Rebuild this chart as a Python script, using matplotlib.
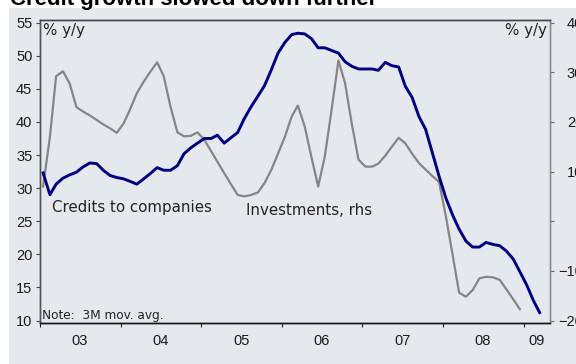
import matplotlib
matplotlib.use("Agg")
import matplotlib.pyplot as plt
import matplotlib.dates as mdates
from matplotlib.patches import Rectangle
import pandas as pd

# Monthly series, Jan 2003 onwards (3M moving averages, % y/y)
credits_to_companies = [
    32.3, 29.0, 30.6, 31.5, 32.0, 32.4, 33.2, 33.8, 33.7, 32.7, 31.9, 31.6,   # 2003
    31.4, 31.0, 30.6, 31.4, 32.2, 33.1, 32.7, 32.7, 33.4, 35.2, 36.1, 36.8,   # 2004
    37.5, 37.5, 38.0, 36.8, 37.6, 38.4, 40.5, 42.3, 43.9, 45.5, 47.9, 50.4,   # 2005
    52.0, 53.2, 53.4, 53.3, 52.6, 51.2, 51.2, 50.8, 50.4, 49.1, 48.4, 48.0,   # 2006
    48.0, 48.0, 47.8, 49.0, 48.5, 48.3, 45.4, 43.7, 40.8, 38.9, 35.3, 31.8,   # 2007
    28.5, 25.9, 23.8, 22.0, 21.1, 21.1, 21.8, 21.5, 21.3, 20.5, 19.3, 17.4,   # 2008
    15.4, 13.0, 11.2,                                                          # 2009
]
investments_rhs = [
    7.0, 17.0, 29.2, 30.2, 27.8, 23.0, 22.1, 21.3, 20.4, 19.5, 18.7, 17.8,     # 2003
    19.7, 22.7, 25.8, 28.1, 30.1, 32.0, 29.2, 23.0, 17.9, 17.1, 17.2, 17.9,   # 2004
    16.4, 14.1, 12.0, 9.7, 7.5, 5.3, 5.0, 5.3, 5.8, 7.7, 10.4, 13.6,          # 2005
    17.0, 21.1, 23.3, 19.1, 13.0, 7.0, 13.0, 22.5, 32.4, 27.8, 19.5, 12.4,    # 2006
    11.0, 11.0, 11.6, 13.2, 15.0, 16.8, 15.7, 13.6, 11.7, 10.4, 9.1, 7.9,     # 2007
    1.0, -6.9, -14.4, -15.2, -13.9, -11.5, -11.2, -11.3, -11.8, -13.7, -15.7, -17.7,  # 2008
]
year_labels = ["03", "04", "05", "06", "07", "08", "09"]
left_ticks = [10, 15, 20, 25, 30, 35, 40, 45, 50, 55]
right_ticks = [-20, -10, 0, 10, 20, 30, 40]

W, H = 576, 364
fig = plt.figure(figsize=(W / 100, H / 100), dpi=100)
fig.patch.set_facecolor("white")

def fx(px):
    return px / W

def fy(py):
    return 1 - py / H

bg = "#e5e9ee"
fig.patches.append(Rectangle((fx(9), 0), 1 - fx(9), fy(8), transform=fig.transFigure,
                             facecolor=bg, edgecolor="none", zorder=-10))

fig.text(fx(10), fy(5), "Credit growth slowed down further", fontsize=16,
         fontweight="bold", family="Liberation Sans", va="baseline", ha="left")

ax = fig.add_axes([fx(40), fy(322.5), fx(550) - fx(40), fy(20) - fy(322.5)])
ax2 = ax.twinx()
ax.set_zorder(ax2.get_zorder() + 1)
ax.patch.set_visible(False)
ax2.patch.set_facecolor(bg)

dates_blue = pd.date_range("2003-01-01", periods=len(credits_to_companies), freq="MS") + pd.Timedelta(days=14)
dates_gray = pd.date_range("2003-01-01", periods=len(investments_rhs), freq="MS") + pd.Timedelta(days=14)

ax2.plot(dates_gray, investments_rhs, color="#858585", lw=1.6, solid_joinstyle="round")
ax.plot(dates_blue, credits_to_companies, color="#000080", lw=2.1, solid_joinstyle="round")

ax.set_xlim(pd.Timestamp("2003-01-01"), pd.Timestamp("2009-05-01"))
ax.set_ylim(9.7, 55.4)
ax2.set_ylim((9.7 - 25) * 4 / 3, (55.4 - 25) * 4 / 3)

ax.set_yticks(left_ticks)
ax2.set_yticks(right_ticks)

# year boundaries as tick marks, year labels centred in each year span
ax.xaxis.set_major_locator(mdates.YearLocator())
ax.xaxis.set_major_formatter(plt.NullFormatter())
label_pos = [pd.Timestamp(f"20{y}-07-01") for y in year_labels[:-1]] + [pd.Timestamp("2009-03-01")]
ax.set_xticks(label_pos, minor=True)
ax.set_xticklabels(year_labels, minor=True)
ax.tick_params(axis="x", which="minor", length=0, pad=8.5, labelsize=10.5, labelcolor="#1a1a1a")
ax.tick_params(axis="x", which="major", length=3, width=0.8, direction="out", color="#222222")

tick_font = "Liberation Sans"
ax.tick_params(axis="y", length=3, width=0.8, direction="out", pad=2.5, labelsize=10.5,
               labelcolor="#1a1a1a", color="#444444")
ax2.tick_params(axis="y", length=3, width=0.8, direction="out", pad=21, labelsize=10.5,
                labelcolor="#1a1a1a", color="#666666")
for lab in ax.get_xticklabels(minor=True) + ax.get_yticklabels() + ax2.get_yticklabels():
    lab.set_family(tick_font)
for lab in ax2.get_yticklabels():
    lab.set_ha("right")

for a in (ax, ax2):
    a.spines["left"].set_color("#555555")
    a.spines["bottom"].set_color("#111111")
    a.spines["top"].set_color("#444444")
    a.spines["right"].set_color("#8a8a8a")
    for s in a.spines.values():
        s.set_linewidth(1.0)

txt = dict(family="DejaVu Sans", color="#222222")
fig.text(fx(43), fy(23), "% y/y", fontsize=10.8, ha="left", va="top", **txt)
fig.text(fx(547), fy(23), "% y/y", fontsize=10.8, ha="right", va="top", **txt)
fig.text(fx(51.5), fy(212), "Credits to companies", fontsize=10.8, ha="left", va="baseline", **txt)
fig.text(fx(246), fy(215), "Investments, rhs", fontsize=10.8, ha="left", va="baseline", **txt)
fig.text(fx(42), fy(319.3), "Note:  3M mov. avg.", fontsize=8.7, ha="left", va="baseline", **txt)

fig.savefig("out.png", dpi=100)
